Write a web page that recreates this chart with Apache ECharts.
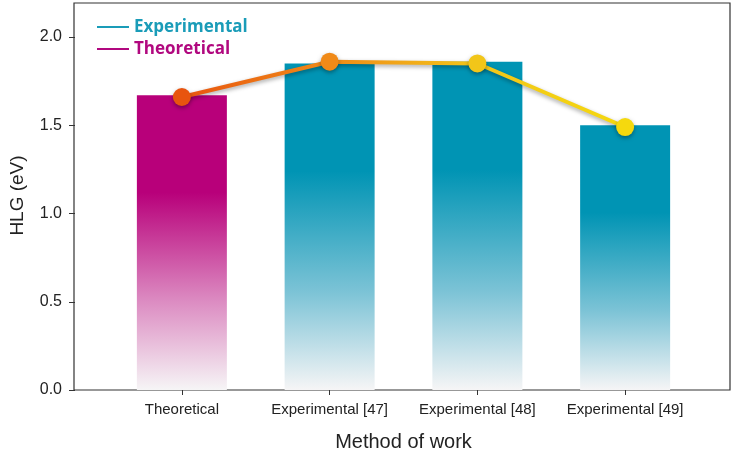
<!DOCTYPE html>
<html>
<head>
<meta charset="utf-8">
<script src="https://cdn.jsdelivr.net/npm/echarts@6/dist/echarts.min.js"></script>
<style>
  html, body { margin: 0; padding: 0; background: #fff; }
  #main { width: 733px; height: 457px; }
</style>
</head>
<body>
<div id="main"></div>
<script>
// data
let categories = ['Theoretical', 'Experimental [47]', 'Experimental [48]', 'Experimental [49]'];
let theoreticalBar = [1.67, '-', '-', '-'];
let experimentalBar = ['-', 1.85, 1.86, 1.50];
let trendLine = [1.66, 1.86, 1.85, 1.49];
let markerColors = ['#e8540f', '#f08a18', '#f2c619', '#f5d90e'];

let magenta = '#b8007a';
let teal = '#0094b4';

function fade(c, mid) {
  return new echarts.graphic.LinearGradient(0, 0, 0, 1, [
    {offset: 0, color: c},
    {offset: 0.33, color: c},
    {offset: 0.7, color: mid},
    {offset: 1, color: '#f6f5f6'}
  ]);
}

let font = 'Liberation Sans, Arial, sans-serif';

let option = {
  animation: false,
  legend: {
    orient: 'vertical',
    left: 92,
    top: 13,
    itemWidth: 32,
    itemHeight: 2,
    itemGap: 4,
    icon: 'rect',
    textStyle: {fontFamily: 'Open Sans', fontWeight: 'bold', fontSize: 17, lineHeight: 18},
    data: [
      {name: 'Experimental', itemStyle: {color: '#1a9cb8'}, textStyle: {color: '#1a9cb8'}},
      {name: 'Theoretical', itemStyle: {color: '#b1087f'}, textStyle: {color: '#b1087f'}}
    ]
  },
  grid: [
    // frame
    {left: 74, right: 3, top: 3, bottom: 67, show: true, borderColor: '#333', borderWidth: 1.2},
    // data area
    {left: 107, right: 34, top: 37, bottom: 67}
  ],
  xAxis: [
    {gridIndex: 0, type: 'value', show: false},
    {
      gridIndex: 1,
      type: 'category',
      data: categories,
      name: 'Method of work',
      nameLocation: 'middle',
      nameGap: 42,
      nameTextStyle: {fontFamily: font, fontSize: 20, color: '#222'},
      axisLine: {show: false},
      axisTick: {show: true, alignWithLabel: true, length: 5, lineStyle: {color: '#333'}},
      axisLabel: {fontFamily: font, fontSize: 15, color: '#222', margin: 12, interval: 0}
    }
  ],
  yAxis: [
    {gridIndex: 0, type: 'value', show: false},
    {
      gridIndex: 1,
      type: 'value',
      min: 0,
      max: 2.0,
      interval: 0.5,
      offset: 33,
      name: 'HLG (eV)',
      nameLocation: 'middle',
      nameGap: 48,
      nameTextStyle: {fontFamily: font, fontSize: 19, color: '#222', padding: [0, 0, 0, 36]},
      axisLine: {show: false},
      axisTick: {show: true, length: 6, lineStyle: {color: '#333'}},
      splitLine: {show: false},
      axisLabel: {
        fontFamily: font, fontSize: 16, color: '#222', margin: 13,
        formatter: v => v.toFixed(1)
      }
    }
  ],
  series: [
    {
      name: 'Theoretical',
      type: 'bar',
      xAxisIndex: 1,
      yAxisIndex: 1,
      barWidth: 90,
      barGap: '-100%',
      data: theoreticalBar,
      itemStyle: {color: fade(magenta, '#dc8cc2')}
    },
    {
      name: 'Experimental',
      type: 'bar',
      xAxisIndex: 1,
      yAxisIndex: 1,
      barWidth: 90,
      barGap: '-100%',
      data: experimentalBar,
      itemStyle: {color: fade(teal, '#7cc3d6')}
    },
    {
      name: 'trend',
      type: 'line',
      xAxisIndex: 1,
      yAxisIndex: 1,
      z: 5,
      symbol: 'circle',
      symbolSize: 18,
      data: trendLine.map((v, i) => ({value: v, itemStyle: {color: markerColors[i]}})),
      lineStyle: {
        width: 4,
        color: new echarts.graphic.LinearGradient(0, 0, 1, 0, [
          {offset: 0, color: markerColors[0]},
          {offset: 0.33, color: markerColors[1]},
          {offset: 0.67, color: markerColors[2]},
          {offset: 1, color: markerColors[3]}
        ]),
        shadowColor: 'rgba(0,0,0,0.35)',
        shadowBlur: 4,
        shadowOffsetY: 2
      },
      itemStyle: {
        shadowColor: 'rgba(0,0,0,0.35)',
        shadowBlur: 4,
        shadowOffsetY: 2
      }
    }
  ]
};

let myChart = echarts.init(document.getElementById('main'));
myChart.setOption(option);
</script>
</body>
</html>
